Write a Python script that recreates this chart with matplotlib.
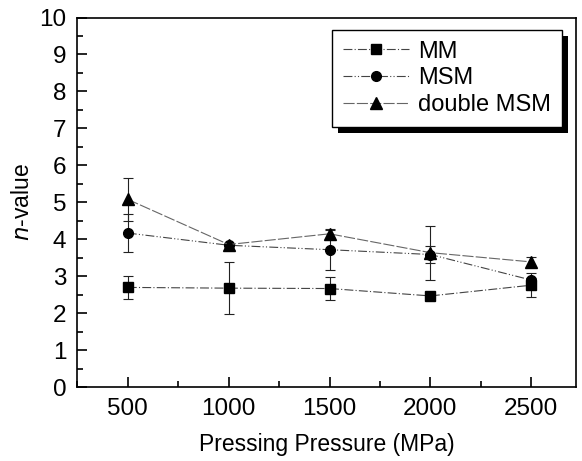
import numpy as np
import matplotlib
matplotlib.use('Agg')
import matplotlib.pyplot as plt
from matplotlib.patches import Rectangle
from matplotlib.ticker import MultipleLocator

plt.rcParams['font.family'] = ['Liberation Sans', 'DejaVu Sans']

pressure = [500, 1000, 1500, 2000, 2500]

mm = [2.70, 2.68, 2.67, 2.47, 2.76]
mm_err = [0.30, 0.70, 0.30, 0.0, 0.33]

msm = [4.17, 3.84, 3.72, 3.59, 2.90]
msm_err = [0.52, 0.0, 0.56, 0.24, 0.05]

dmsm = [5.08, 3.86, 4.15, 3.64, 3.39]
dmsm_err = [0.58, 0.0, 0.10, 0.73, 0.13]

fig = plt.figure(figsize=(5.82, 4.61), dpi=100)
ax = fig.add_axes([0.133, 0.160, 0.856, 0.802])

common = dict(linewidth=0.8, markerfacecolor='black', markeredgecolor='black',
              ecolor='#222222', capsize=3.5, elinewidth=0.8, capthick=0.8)
e1 = ax.errorbar(pressure, mm, yerr=mm_err, color='#444444',
                 linestyle=(0, (8, 2, 1, 2)), marker='s', markersize=7,
                 label='MM', **common)
e2 = ax.errorbar(pressure, msm, yerr=msm_err, color='#444444',
                 linestyle=(0, (8, 2, 1, 2, 1, 2)), marker='o', markersize=7,
                 label='MSM', **common)
e3 = ax.errorbar(pressure, dmsm, yerr=dmsm_err, color='#666666',
                 linestyle=(0, (10, 2)), marker='^', markersize=8,
                 label='double MSM', **common)

ax.set_xlim(250, 2720)
ax.set_ylim(0, 10)
ax.xaxis.set_major_locator(MultipleLocator(500))
ax.xaxis.set_minor_locator(MultipleLocator(250))
ax.yaxis.set_major_locator(MultipleLocator(1))
ax.yaxis.set_minor_locator(MultipleLocator(0.5))
ax.tick_params(which='both', direction='in', top=False, right=False,
               labelsize=17.5, width=1.2)
ax.tick_params(which='major', length=7, pad=8)
ax.tick_params(which='minor', length=4)
for s in ax.spines.values():
    s.set_linewidth(1.2)

ax.set_xlabel('Pressing Pressure (MPa)', fontsize=16.5, labelpad=9)
ax.set_ylabel('$\\it{n}$-value', fontsize=16.5, labelpad=4)

handles = [e1[0], e2[0], e3[0]]
labels = ['MM', 'MSM', 'double MSM']
leg = ax.legend(handles, labels, loc='upper right', bbox_to_anchor=(0.9725, 0.966),
                borderaxespad=0, fontsize=17, frameon=True, fancybox=False,
                edgecolor='black', framealpha=1, handlelength=2.8,
                borderpad=0.45, labelspacing=0.2, handletextpad=0.4)
leg.get_frame().set_linewidth(1.0)
leg.set_zorder(5)

fig.canvas.draw()
bb = leg.get_window_extent()
off = 6
shadow = Rectangle((bb.x0 + off, bb.y0 - off), bb.width, bb.height,
                   transform=None, facecolor='black', edgecolor='none', zorder=4)
ax.add_artist(shadow)
shadow.set_clip_on(False)

fig.savefig('out.png', dpi=100)
